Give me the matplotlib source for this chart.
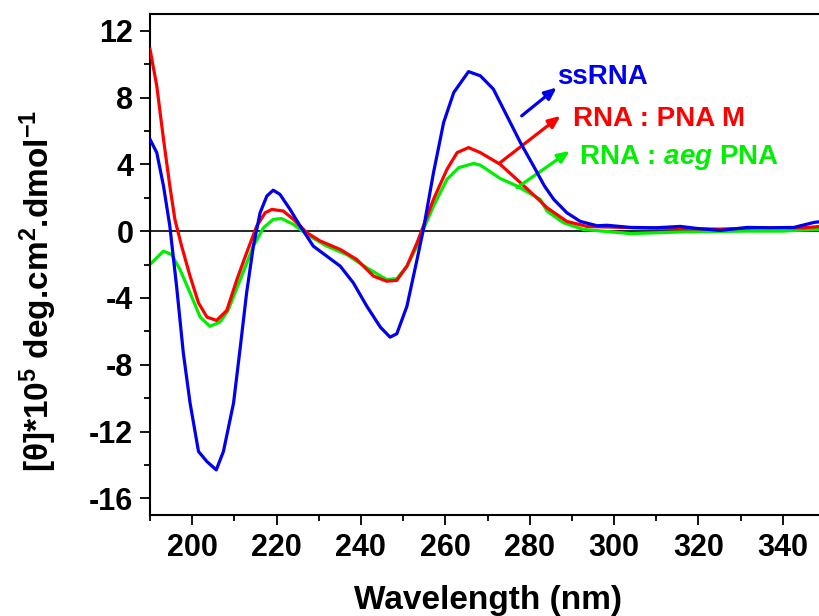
import matplotlib
matplotlib.use("Agg")
import matplotlib.pyplot as plt
from matplotlib.ticker import MultipleLocator

plt.rcParams['font.family'] = ['Liberation Sans', 'DejaVu Sans']
plt.rcParams['font.weight'] = 'bold'
plt.rcParams['axes.unicode_minus'] = False
plt.rcParams['mathtext.fontset'] = 'custom'
plt.rcParams['mathtext.rm'] = 'Liberation Sans'
plt.rcParams['mathtext.bf'] = 'Liberation Sans:bold'
plt.rcParams['mathtext.it'] = 'Liberation Sans:bold:italic'

# ---- data ----
ss_wl = [190, 191.6, 193.2, 194.7, 196.3, 197.9, 199.5, 201.5, 203.5, 205.7, 207.4, 209.8,
         211.4, 212.9, 214.5, 216.1, 217.7, 219.2, 220.8, 223.2, 225.6, 228.7, 231.9, 235.1,
         238.2, 241.4, 244.6, 246.9, 248.5, 250.9, 253.3, 254.8, 257.2, 259.6, 262.0, 265.5,
         268.3, 271.4, 274.6, 277.8, 280.9, 283.5, 285.7, 288.8, 292, 296, 298.3, 303.9,
         310, 315.7, 320, 325.2, 331.6, 337, 342.6, 347.4, 350]
ss_val = [5.5, 4.7, 2.7, 0.3, -3.3, -7.3, -10.3, -13.2, -13.8, -14.3, -13.2, -10.3,
          -6.95, -3.7, -0.9, 1.1, 2.1, 2.45, 2.2, 1.3, 0.3, -0.9, -1.5, -2.1,
          -3.1, -4.5, -5.75, -6.35, -6.15, -4.5, -1.7, 0.1, 3.5, 6.5, 8.3, 9.55,
          9.3, 8.5, 6.9, 5.3, 3.9, 2.7, 1.9, 1.1, 0.58, 0.32, 0.35, 0.22,
          0.2, 0.28, 0.15, 0.04, 0.22, 0.2, 0.22, 0.52, 0.6]

m_wl = [190, 191.6, 193.2, 194.7, 195.9, 197.5, 199.5, 201.5, 203.5, 205.8, 208.2, 210.6,
        212.9, 215.3, 217.3, 218.9, 221.6, 224, 227.2, 230.4, 235.1, 239, 243, 246.1,
        248.5, 250.9, 253.3, 254.8, 257.2, 260.4, 262.8, 265.5, 268.3, 273, 277.8, 282.5,
        284.1, 288.8, 293.6, 304.7, 315, 325, 335, 345, 350]
m_val = [10.9, 8.7, 5.5, 2.7, 0.7, -0.9, -2.7, -4.3, -5.15, -5.35, -4.75, -2.9,
         -1.3, 0.3, 1.1, 1.3, 1.2, 0.7, -0.1, -0.6, -1.1, -1.7, -2.7, -3.0,
         -2.95, -2.1, -0.7, 0.3, 1.9, 3.7, 4.7, 5.0, 4.7, 4.0, 2.9, 1.8,
         1.4, 0.58, 0.28, 0.2, 0.15, 0.12, 0.2, 0.2, 0.3]

aeg_wl = [190, 193.2, 195.1, 197.1, 199.5, 201.9, 204.2, 206.6, 208.5, 211.4, 214.5, 216.9,
          219.2, 221.2, 224, 227.2, 231.9, 236.6, 241.4, 246.1, 248.5, 250.9, 253.3, 254.8,
          257.2, 260.4, 263.2, 266.7, 268.3, 273, 277, 282.5, 284.1, 288, 292.7, 303.9,
          315.7, 331.6, 340, 347.4, 350]
aeg_val = [-2.0, -1.2, -1.4, -2.3, -3.7, -5.15, -5.7, -5.45, -4.75, -2.9, -0.9, 0.2,
           0.7, 0.75, 0.4, -0.2, -0.9, -1.4, -2.2, -2.9, -2.85, -2.1, -0.9, 0.1,
           1.5, 3.1, 3.8, 4.05, 3.95, 3.15, 2.7, 1.9, 1.2, 0.5, 0.1, -0.15,
           -0.05, 0.0, 0.0, 0.1, 0.1]

labels = ["ssRNA", "RNA : PNA M", "RNA : $\\mathit{aeg}$ PNA"]
colors = ["#0000ee", "#ff0000", "#00ee00"]

fig = plt.figure(figsize=(8.19, 6.16), dpi=100)
ax = fig.add_axes([150/819, 101/616, 675/819, 501/616])

ax.plot(ss_wl, ss_val, color=colors[0], lw=2.3, zorder=4)
ax.plot(m_wl, m_val, color=colors[1], lw=2.3, zorder=3)
ax.plot(aeg_wl, aeg_val, color=colors[2], lw=2.3, zorder=2)
ax.axhline(0, color='black', lw=1.2, zorder=1)

ax.set_xlim(190, 350)
ax.set_ylim(-17, 13)
ax.xaxis.set_major_locator(MultipleLocator(20))
ax.xaxis.set_minor_locator(MultipleLocator(10))
ax.yaxis.set_major_locator(MultipleLocator(4))
ax.yaxis.set_minor_locator(MultipleLocator(2))
ax.set_xticks([200, 220, 240, 260, 280, 300, 320, 340])
ax.tick_params(which='major', direction='out', length=7, width=1.3, labelsize=22)
ax.tick_params(which='minor', direction='out', length=4, width=1.3)
ax.tick_params(axis='x', pad=6)
ax.tick_params(axis='y', pad=5)
for lab in ax.get_xticklabels() + ax.get_yticklabels():
    lab.set_fontweight('bold')
for s in ['left', 'bottom', 'top']:
    ax.spines[s].set_linewidth(1.5)
ax.spines['right'].set_visible(False)

ax.set_xlabel("Wavelength (nm)", fontsize=24, fontweight='bold', labelpad=16)
ax.set_ylabel("[θ]*$\\mathrm{10}^{5}$ deg.cm$^{2}$.dmol$^{-1}$", fontsize=24,
              fontweight='bold')
ax.yaxis.set_label_coords(-0.135, 0.447)

# annotations with arrows
ann = [((278.1, 6.9), (286.4, 8.6), (286.6, 9.25)),
       ((273.0, 4.1), (287.3, 6.9), (290.2, 6.7)),
       ((277.0, 2.6), (289.5, 4.8), (291.8, 4.4))]
for (start, end, txt), lab, c in zip(ann, labels, colors):
    ax.annotate("", xy=end, xytext=start,
                arrowprops=dict(arrowstyle='-|>,head_length=0.7,head_width=0.3', color=c, lw=2.3,
                                shrinkA=0, shrinkB=0))
    ax.text(txt[0], txt[1], lab, color=c, fontsize=20, fontweight='bold', va='center', ha='left')

fig.savefig("out.png", dpi=100)
